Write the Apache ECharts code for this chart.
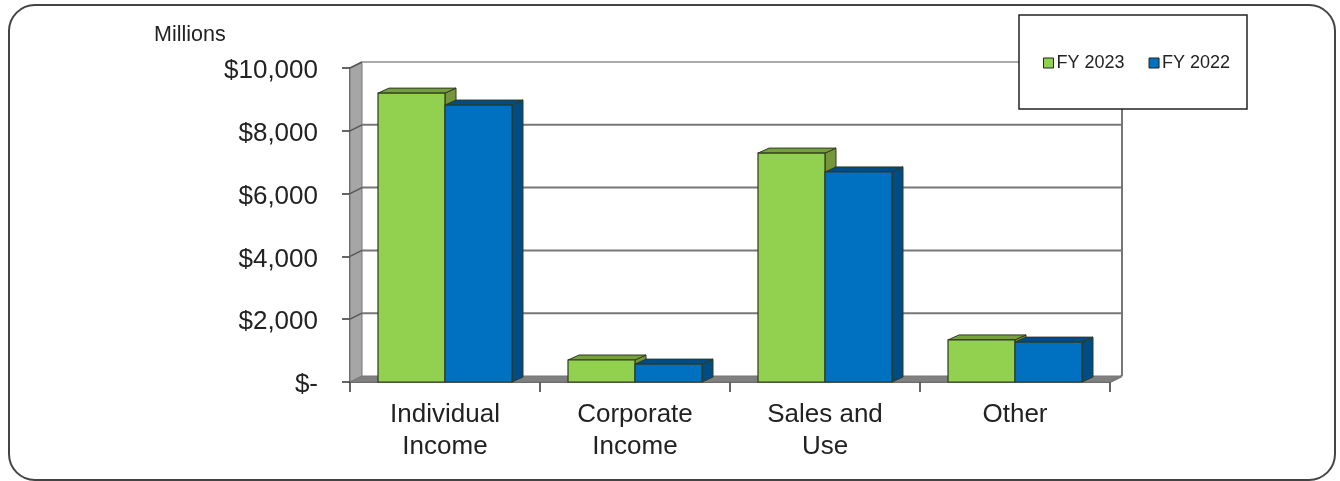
<!DOCTYPE html>
<html><head><meta charset="utf-8">
<style>html,body{margin:0;padding:0;background:#fff}#c{width:1340px;height:481px}</style>
<script src="https://cdn.jsdelivr.net/npm/echarts@6/dist/echarts.min.js"></script>
</head><body><div id="c"></div>
<script>
var categories = ['Individual\nIncome', 'Corporate\nIncome', 'Sales and\nUse', 'Other'];
var fy2023 = [9200, 700, 7290, 1340];
var fy2022 = [8820, 570, 6690, 1270];
var yTicks = [2000, 4000, 6000, 8000, 10000];
var FONT = '"Liberation Sans", Arial, sans-serif';
var DX = 12, DY = -6;

function poly(points, fill, stroke, lw) {
  return { type: 'polygon', shape: { points: points },
    style: { fill: fill, stroke: stroke || null, lineWidth: lw || 0 } };
}
function barRenderer(offsetSign, front, top, side) {
  return function (params, api) {
    var bw = Math.round(api.size([1, 0])[0] * 67 / 190);
    var c = api.coord([api.value(0), api.value(1)]);
    var b = api.coord([api.value(0), 0]);
    var x0 = offsetSign < 0 ? c[0] - bw : c[0];
    var x1 = x0 + bw, y0 = c[1], y1 = b[1];
    var dx = DX - 1, dy = DY + 1, ln = '#2f3a22';
    return { type: 'group', children: [
      poly([[x1, y0], [x1 + dx, y0 + dy], [x1 + dx, y1 + dy], [x1, y1]], side, ln, 1),
      poly([[x0, y0], [x0 + dx, y0 + dy], [x1 + dx, y0 + dy], [x1, y0]], top, ln, 1),
      { type: 'rect', shape: { x: x0, y: y0, width: bw, height: y1 - y0 },
        style: { fill: front, stroke: ln, lineWidth: 1.2 } }
    ] };
  };
}
function barData(values) { return values.map(function (v, i) { return [i, v]; }); }

var chart = echarts.init(document.getElementById('c'), null, { renderer: 'canvas' });
chart.setOption({
  animation: false,
  backgroundColor: '#fff',
  title: { text: 'Millions', left: 149, top: 19,
    textStyle: { fontFamily: FONT, fontSize: 21.5, fontWeight: 'normal', color: '#222' } },
  grid: { left: 350, right: 230, top: 68, bottom: 99 },
  xAxis: { type: 'category', data: categories, boundaryGap: true,
    axisLine: { show: true, lineStyle: { color: '#333', width: 1.5 } },
    axisTick: { show: true, length: 10, alignWithLabel: false, lineStyle: { color: '#333', width: 1.5 } },
    axisLabel: { interval: 0, margin: 17, fontFamily: FONT, fontSize: 26, lineHeight: 32, color: '#222' },
    splitLine: { show: false } },
  yAxis: { type: 'value', min: 0, max: 10000, interval: 2000,
    axisLine: { show: true, lineStyle: { color: '#333', width: 1.5 } },
    axisTick: { show: true, length: 8, lineStyle: { color: '#333', width: 1.5 } },
    axisLabel: { margin: 32, fontFamily: FONT, fontSize: 26, color: '#222', verticalAlign: 'top', lineHeight: 6,
      formatter: function (v) { return v === 0 ? '$-' : '$' + v.toLocaleString('en-US'); } },
    splitLine: { show: false } },
  legend: { show: true, left: 1038, top: 49, orient: 'horizontal', itemWidth: 10, itemHeight: 10, itemGap: 24,
    textStyle: { fontFamily: FONT, fontSize: 18, color: '#222', padding: [0, 0, 0, -2] }, z: 30,
    data: [
      { name: 'FY 2023', icon: 'rect', itemStyle: { color: '#92D050', borderColor: '#222', borderWidth: 1 } },
      { name: 'FY 2022', icon: 'rect', itemStyle: { color: '#0070C0', borderColor: '#222', borderWidth: 1 } }
    ] },
  graphic: [
    { type: 'rect', z: -1, silent: true, shape: { x: 9, y: 5, width: 1326, height: 475, r: 26 },
      style: { fill: '#fff', stroke: '#444', lineWidth: 2 } },
    { type: 'rect', z: 20, silent: true, shape: { x: 1019, y: 15, width: 228, height: 94 },
      style: { fill: '#fff', stroke: '#222', lineWidth: 1.5 } }
  ],
  series: [
    { type: 'custom', silent: true, z: 1, clip: false, data: [[0, 0]],
      renderItem: function (params, api) {
        var s = params.coordSys, l = s.x, r = s.x + s.width, t = s.y, b = s.y + s.height;
        return { type: 'group', children: [
          poly([[l, t], [l + DX, t + DY], [l + DX, b + DY], [l, b]], '#A6A6A6', '#777', 1),
          poly([[l, b], [l + DX, b + DY], [r + DX, b + DY], [r, b]], '#808080', '#777', 1),
          { type: 'line', shape: { x1: r + DX, y1: t + DY, x2: r + DX, y2: b + DY }, style: { stroke: '#777', lineWidth: 2 } },
          { type: 'line', shape: { x1: r + DX, y1: b + DY, x2: r, y2: b }, style: { stroke: '#777', lineWidth: 2 } }
        ] };
      } },
    { type: 'custom', silent: true, z: 2, clip: false, data: yTicks.map(function (v) { return [0, v]; }),
      renderItem: function (params, api) {
        var s = params.coordSys, l = s.x, r = s.x + s.width, y = api.coord([0, api.value(1)])[1];
        return { type: 'group', children: [
          { type: 'line', shape: { x1: l, y1: y, x2: l + DX, y2: y + DY }, style: { stroke: '#555', lineWidth: 1.5 } },
          { type: 'line', shape: { x1: l + DX, y1: y + DY, x2: r + DX, y2: y + DY },
            style: { stroke: api.value(1) === 10000 ? '#aaa' : '#777', lineWidth: 2 } }
        ] };
      } },
    { name: 'FY 2023', type: 'custom', z: 3, clip: false, itemStyle: { color: '#92D050' }, data: barData(fy2023),
      renderItem: barRenderer(-1, '#92D050', '#76A03C', '#76963C') },
    { name: 'FY 2022', type: 'custom', z: 4, clip: false, itemStyle: { color: '#0070C0' }, data: barData(fy2022),
      renderItem: barRenderer(1, '#0070C0', '#004C85', '#004C85') }
  ]
});
</script></body></html>
